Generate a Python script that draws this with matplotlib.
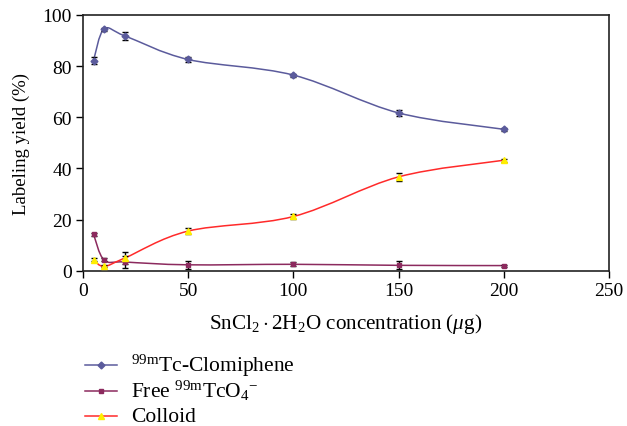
import numpy as np
import matplotlib
matplotlib.use("Agg")
import matplotlib.pyplot as plt
from matplotlib.path import Path
from matplotlib.patches import PathPatch
from matplotlib.lines import Line2D

plt.rcParams['font.family'] = 'Liberation Serif'
plt.rcParams['mathtext.fontset'] = 'custom'
plt.rcParams['mathtext.rm'] = 'Liberation Serif'
plt.rcParams['mathtext.it'] = 'Liberation Serif:italic'
plt.rcParams['mathtext.bf'] = 'Liberation Serif:bold'

# SnCl2 amount (ug)
conc = [5, 10, 20, 50, 100, 150, 200]

clomiphene = [82.2, 94.5, 91.8, 82.6, 76.5, 61.7, 55.3]
clomiphene_err = [1.5, 0.6, 1.6, 1.0, 0.6, 1.1, 0.5]

free_tco4 = [14.3, 4.2, 3.4, 2.3, 2.5, 2.1, 2.0]
free_tco4_err = [0.6, 0.6, 2.2, 1.5, 0.8, 1.6, 0.4]

colloid = [4.2, 1.7, 5.0, 15.5, 21.2, 36.7, 43.2]
colloid_err = [0.6, 0.4, 2.4, 1.2, 0.9, 1.5, 0.5]

labels = [r'$^{99\mathrm{m}}$Tc-Clomiphene',
          r'Free $^{99\mathrm{m}}$TcO$_4$$^{-}$',
          'Colloid']
line_colors = ['#5b5b9c', '#8c2a5e', '#ff2a2a']
marker_colors = ['#5b5b9c', '#8c2a5e', '#ffee00']
markers = ['D', 's', '^']


def smooth_path(xs, ys) :
	# excel style smoothed line (cubic bezier through the points)
	pts = np.column_stack([xs, ys]).astype(float)
	n = len(pts)
	verts = [pts[0]]
	codes = [Path.MOVETO]
	for i in range(n - 1) :
		p0 = pts[max(i - 1, 0)]
		p1 = pts[i]
		p2 = pts[i + 1]
		p3 = pts[min(i + 2, n - 1)]
		c1 = p1 + (p2 - p0) / 6.0
		c2 = p2 - (p3 - p1) / 6.0
		verts += [c1, c2, p2]
		codes += [Path.CURVE4, Path.CURVE4, Path.CURVE4]
	return Path(verts, codes)


W, H = 627, 427
fig = plt.figure(figsize=(6.27, 4.27), dpi=100)
ax = fig.add_axes([83 / W, 1 - 271.7 / H, (609 - 83) / W, (271.7 - 16) / H])

series = [(clomiphene, clomiphene_err), (free_tco4, free_tco4_err), (colloid, colloid_err)]
msizes = [3.5, 3.5, 4.0]
for i in range(3) :
	vals, errs = series[i]
	ax.add_patch(PathPatch(smooth_path(conc, vals), facecolor='none',
	                       edgecolor=line_colors[i], lw=1.1, zorder=2))
	ax.errorbar(conc, vals, yerr=errs, fmt='none', ecolor='black',
	            elinewidth=1.0, capsize=2.5, capthick=1.0, zorder=3)
	ax.plot(conc, vals, linestyle='none', marker=markers[i], markersize=msizes[i],
	        markerfacecolor=marker_colors[i], markeredgecolor=marker_colors[i], zorder=4)

ax.set_xlim(0, 250)
ax.set_ylim(0, 100)
ax.set_xticks([0, 50, 100, 150, 200, 250])
ax.set_yticks([0, 20, 40, 60, 80, 100])
ax.tick_params(direction='out', length=5, width=1.0, labelsize=14, pad=3)
for s in ax.spines.values() :
	s.set_linewidth(1.2)
	s.set_color('#222222')

ax.set_xlabel(r'SnCl$_2\cdot$2H$_2$O concentration ($\mathit{\mu}$g)', fontsize=15.2, labelpad=9)
ax.set_ylabel('Labeling yield (%)', fontsize=13.5, labelpad=9)

# legend drawn by hand under the axes
legend_y = [366, 392, 417]
for i in range(3) :
	y = 1 - legend_y[i] / H
	fig.add_artist(Line2D([85 / W, 117 / W], [y, y], transform=fig.transFigure,
	                      color=line_colors[i], lw=1.1))
	fig.add_artist(Line2D([101 / W], [y], transform=fig.transFigure, linestyle='none',
	                      marker=markers[i], markersize=msizes[i],
	                      markerfacecolor=marker_colors[i], markeredgecolor=marker_colors[i]))
	fig.text(131 / W, 1 - (legend_y[i] + 5.5) / H, labels[i], fontsize=15.5,
	         ha='left', va='baseline')

fig.savefig('out.png', dpi=100)
